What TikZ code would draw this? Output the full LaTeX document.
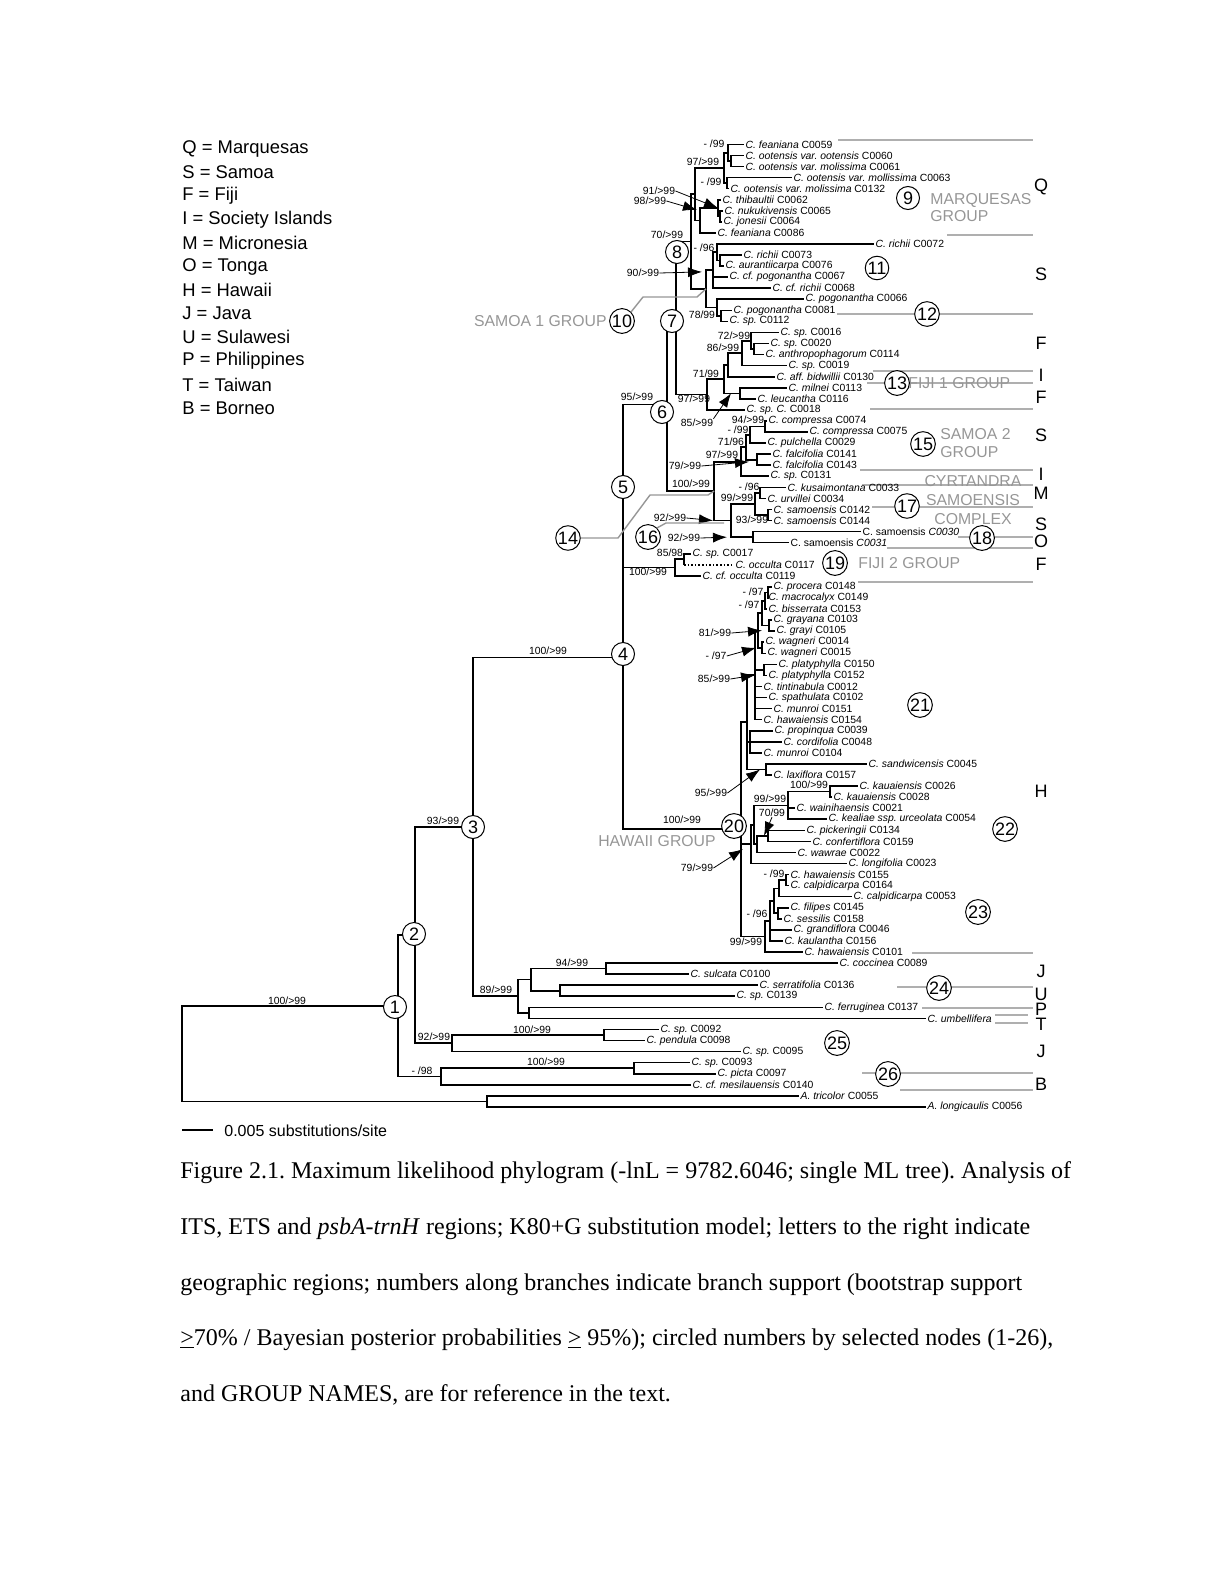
\documentclass[tikz,border=0pt]{standalone}
\usepackage{fontspec}
\setmainfont{Liberation Serif}
\setsansfont{Liberation Sans}
\usetikzlibrary{arrows.meta}
\definecolor{grouptext}{RGB}{150,150,150}
\definecolor{sepgray}{RGB}{175,175,175}
\newcommand{\taxn}[2]{\textit{#1} #2}
\frenchspacing
\tikzset{
  branch/.style={line width=0.8pt},
  taxon/.style={anchor=west, inner sep=0.6pt, font=\fontsize{5.2}{6}\selectfont\sffamily},
  support/.style={inner sep=0pt, font=\fontsize{5.2}{6}\selectfont\sffamily},
  pointer/.style={-{Latex[length=7pt,width=5pt]}, line width=0.4pt},
  nodenum/.style={draw, circle, fill=white, line width=0.5pt, inner sep=0.2pt, minimum size=11.5pt, font=\fontsize{9}{9}\selectfont\sffamily},
  grouplabel/.style={text=grouptext, inner sep=0pt, font=\fontsize{7.9}{8.8}\selectfont\sffamily},
  sepline/.style={draw=sepgray, line width=0.6pt},
  grayleader/.style={draw=grouptext, line width=0.7pt},
  region/.style={inner sep=0pt, font=\fontsize{9}{10}\selectfont\sffamily},
  legendtext/.style={anchor=west, inner sep=0pt, font=\fontsize{9.2}{10}\selectfont\sffamily},
  captionline/.style={anchor=base west, inner sep=0pt, font=\fontsize{12}{14}\selectfont}
}

\begin{document}
\begin{tikzpicture}[x=0.5pt, y=-0.5pt]
\useasboundingbox (0,0) rectangle (1224,1584);

% legend
\foreach \t [count=\i] in {Q = Marquesas, S = Samoa, F = Fiji, I = Society Islands, M = Micronesia, O = Tonga,
  H = Hawaii, J = Java, U = Sulawesi, P = Philippines, T = Taiwan, B = Borneo}
  \node[legendtext] (leg\i) at (182, {148.5+23.6*(\i-1)}) {\t};

% separator lines on the right
\foreach \xa/\y in {838/140, 947/235, 837/314, 873/371, 867/383, 870/409, 860/470, 862/485, 872/507,
  958/537, 887/548, 858/582, 912/953, 897/987, 922/1008, 862/1073, 900/1090}
  \draw[sepline] (\xa,\y) coordinate (sl\y) -- (1033,\y);
\draw[sepline] (995,1015) -- (1028,1015);
\draw[sepline] (995,1023) -- (1028,1023);

% the tree, y counted in taxon rows
\begin{scope}[y=-5.5315pt, yshift=-66.67pt]
\foreach \r/\x/\lab in {
  1/744/\taxn{C. feaniana}{C0059}, 2/744/\taxn{C. ootensis var. ootensis}{C0060},
  3/744/\taxn{C. ootensis var. molissima}{C0061}, 4/792/\taxn{C. ootensis var. mollissima}{C0063},
  5/729/\taxn{C. ootensis var. molissima}{C0132}, 6/721/\taxn{C. thibaultii}{C0062},
  7/723/\taxn{C. nukukivensis}{C0065}, 8/722/\taxn{C. jonesii}{C0064},
  9/716/\taxn{C. feaniana}{C0086}, 10/874/\taxn{C. richii}{C0072},
  11/742/\taxn{C. richii}{C0073}, 12/724/\taxn{C. aurantiicarpa}{C0076},
  13/728/\taxn{C. cf. pogonantha}{C0067}, 14/771/\taxn{C. cf. richii}{C0068},
  15/804/\taxn{C. pogonantha}{C0066}, 16/732/\taxn{C. pogonantha}{C0081},
  17/728/\taxn{C. sp.}{C0112}, 18/779/\taxn{C. sp.}{C0016},
  19/769/\taxn{C. sp.}{C0020}, 20/764/\taxn{C. anthropophagorum}{C0114},
  21/787/\taxn{C. sp.}{C0019}, 22/775/\taxn{C. aff. bidwillii}{C0130},
  23/787/\taxn{C. milnei}{C0113}, 24/756/\taxn{C. leucantha}{C0116},
  25/745/\taxn{C. sp. C.}{C0018}, 26/767/\taxn{C. compressa}{C0074},
  27/808/\taxn{C. compressa}{C0075}, 28/766/\taxn{C. pulchella}{C0029},
  29/771/\taxn{C. falcifolia}{C0141}, 30/771/\taxn{C. falcifolia}{C0143},
  31/769/\taxn{C. sp.}{C0131}, 32/786/\taxn{C. kusaimontana}{C0033},
  33/766/\taxn{C. urvillei}{C0034}, 34/772/\taxn{C. samoensis}{C0142},
  35/772/\taxn{C. samoensis}{C0144}, 36/861/{C. samoensis \textit{C0030}},
  37/789/{C. samoensis \textit{C0031}}, 38/691/\taxn{C. sp.}{C0017},
  39/734/\taxn{C. occulta}{C0117}, 40/701/\taxn{C. cf. occulta}{C0119},
  41/772/\taxn{C. procera}{C0148}, 42/767/\taxn{C. macrocalyx}{C0149},
  43/767/\taxn{C. bisserrata}{C0153}, 44/772/\taxn{C. grayana}{C0103},
  45/775/\taxn{C. grayi}{C0105}, 46/764/\taxn{C. wagneri}{C0014},
  47/766/\taxn{C. wagneri}{C0015}, 48/777/\taxn{C. platyphylla}{C0150},
  49/767/\taxn{C. platyphylla}{C0152}, 50/762/\taxn{C. tintinabula}{C0012},
  51/767/\taxn{C. spathulata}{C0102}, 52/772/\taxn{C. munroi}{C0151},
  53/762/\taxn{C. hawaiensis}{C0154}, 54/773/\taxn{C. propinqua}{C0039},
  55/782/\taxn{C. cordifolia}{C0048}, 56/762/\taxn{C. munroi}{C0104},
  57/867/\taxn{C. sandwicensis}{C0045}, 58/772/\taxn{C. laxiflora}{C0157},
  59/858/\taxn{C. kauaiensis}{C0026}, 60/832/\taxn{C. kauaiensis}{C0028},
  61/795/\taxn{C. wainihaensis}{C0021}, 62/827/\taxn{C. kealiae ssp. urceolata}{C0054},
  63/805/\taxn{C. pickeringii}{C0134}, 64/811/\taxn{C. confertiflora}{C0159},
  65/796/\taxn{C. wawrae}{C0022}, 66/847/\taxn{C. longifolia}{C0023},
  67/789/\taxn{C. hawaiensis}{C0155}, 68/789/\taxn{C. calpidicarpa}{C0164},
  69/852/\taxn{C. calpidicarpa}{C0053}, 70/789/\taxn{C. filipes}{C0145},
  71/782/\taxn{C. sessilis}{C0158}, 72/792/\taxn{C. grandiflora}{C0046},
  73/783/\taxn{C. kaulantha}{C0156}, 74/803/\taxn{C. hawaiensis}{C0101},
  75/838/\taxn{C. coccinea}{C0089}, 76/689/\taxn{C. sulcata}{C0100},
  77/758/\taxn{C. serratifolia}{C0136}, 78/735/\taxn{C. sp.}{C0139},
  79/823/\taxn{C. ferruginea}{C0137}, 80/926/\textit{C. umbellifera},
  81/659/\taxn{C. sp.}{C0092}, 82/645/\taxn{C. pendula}{C0098},
  83/741/\taxn{C. sp.}{C0095}, 84/690/\taxn{C. sp.}{C0093},
  85/716/\taxn{C. picta}{C0097}, 86/691/\taxn{C. cf. mesilauensis}{C0140},
  87/799/\taxn{A. tricolor}{C0055}, 88/926/\taxn{A. longicaulis}{C0056}}
  \node[taxon] (tx\r) at (\x,\r) {\lab};

% internal nodes: name/x/row
\foreach \n/\x/\r in {q1/731/2.5, q2/728/1.75, q3/727/4.5, q4/724/3.125, q5/720/7.5, q6/718/6.75,
  q7/700/7.875, q8/695/5.5, s1/720/11.5, s2/717/10.75, s3/713/12.375, s4a/721/16.5, s4/717/15.75,
  s5/706/14.06, n8/691/9.78, f1/754/19.5, f2/751/18.75, f3/742/19.875, f4/728/20.94, f5/740/23.5,
  f6/724/22.22, f7/707/23.61, n7/676/16.7, m1/765/26.5, m2/750/27.25, m3/757/29.5, m4/746/28.375,
  m5/741/29.69, c1/760/32.5, c2/768/34.5, c3/755/33.5, c4/753/36.5, c5/731/35, m6/714/32.34,
  n6/667/24.52, g1/684/38.5, g2/675/39.25, n5/623/31.88, h1/768/41.5, h2/765/42.25, h3/769/44.5,
  h4/762/43.375, h5/762/46.5, h6/758/44.94, h7/764/48.5, h8/755/48.97, h9/750/55, h11/766/57.5,
  h10/747/53.23, k1/830/59.5, k2/788/60.75, k4/768/63.5, k5/757/64.25, k6/754/62.5, k7/751/64.25,
  p1/786/67.5, p2/779/68.25, p3/778/70.5, p4/774/69.375, p5/770/71.19, p6/765/72.6, h0/741/62.9,
  n4/623/47.39, r1/606/75.5, r2/560/77.5, r3/531/76.5, r4/529/79.5, r5/518/78, n3/473/62.7,
  w1/604/81.5, w2/452/82.25, n2/415/72.47, u1/634/84.5, u2/441/85.25, n1/398/78.86,
  o1/487/87.5, rt/182/83.18}
  \coordinate (\n) at (\x,\r);
\end{scope}

% branches
\foreach \p/\c in {q1/tx2, q1/tx3, q2/tx1, q2/q1, q3/tx4, q3/tx5, q4/q2, q4/q3, q5/tx7, q5/tx8,
  q6/tx6, q6/q5, q7/q6, q7/tx9, q8/q4, q8/q7, s1/tx11, s1/tx12, s2/tx10, s2/s1, s3/s2, s3/tx13,
  s3/tx14, s4a/tx16, s4a/tx17, s4/tx15, s4/s4a, s5/s3, s5/s4, n8/q8, n8/s5, f1/tx19, f1/tx20,
  f2/tx18, f2/f1, f3/f2, f3/tx21, f4/f3, f4/tx22, f5/tx23, f5/tx24, f6/f4, f6/f5, f7/f6, f7/tx25,
  n7/n8, n7/f7, m1/tx26, m1/tx27, m2/m1, m2/tx28, m3/tx29, m3/tx30, m4/m2, m4/m3, m5/m4, m5/tx31,
  c1/tx32, c1/tx33, c2/tx34, c2/tx35, c3/c1, c3/c2, c4/tx36, c4/tx37, c5/c3, c5/c4, m6/m5, m6/c5,
  n6/n7, n6/m6, g1/tx38, g2/g1, g2/tx40, n5/n6, n5/g2, h1/tx41, h1/tx42, h2/h1, h2/tx43, h3/tx44,
  h3/tx45, h4/h2, h4/h3, h5/tx46, h5/tx47, h6/h4, h6/h5, h7/tx48, h7/tx49, h8/h6, h8/h7, h8/tx50,
  h8/tx51, h8/tx52, h8/tx53, h9/tx54, h9/tx55, h9/tx56, h11/tx57, h11/tx58, h10/h8, h10/h9,
  h10/h11, k1/tx59, k1/tx60, k2/k1, k2/tx61, k2/tx62, k4/tx63, k4/tx64, k5/k4, k5/tx65, k6/k2,
  k6/k5, k7/k6, k7/tx66, p1/tx67, p1/tx68, p2/p1, p2/tx69, p3/tx70, p3/tx71, p4/p2, p4/p3, p5/p4,
  p5/tx72, p5/tx73, p6/p5, p6/tx74, h0/h10, h0/k7, h0/p6, n4/n5, n4/h0, r1/tx75, r1/tx76,
  r2/tx77, r2/tx78, r3/r1, r3/r2, r4/tx79, r4/tx80, r5/r3, r5/r4, n3/n4, n3/r5, w1/tx81, w1/tx82,
  w2/w1, w2/tx83, n2/n3, n2/w2, u1/tx84, u1/tx85, u2/u1, u2/tx86, n1/n2, n1/u2, o1/tx87, o1/tx88,
  rt/n1, rt/o1}
  \draw[branch] (\p) |- (\c);
\draw[branch] (g1) -- (g1 |- tx39);
\draw[branch, densely dotted] (g1 |- tx39) -- (tx39);

% support values
\foreach \x/\y/\a/\b [count=\i] in {714/144/-\ /99, 703/162/97/>99, 711/182/-\ /99, 667/235/70/>99,
  704/248/-\ /96, 702/315/78/99, 734/336/72/>99, 723/348/86/>99, 706/374/71/99, 637/397/95/>99,
  694/399/97/>99, 748/420/94/>99, 738/430/-\ /99, 731/442/71/96, 722/455/97/>99, 691/484/100/>99,
  749/487/-\ /96, 737/498/99/>99, 752/520/93/>99, 670/553/85/98, 648/572/100/>99, 753/592/-\ /97,
  749/605/-\ /97, 809/785/100/>99, 770/799/99/>99, 682/820/100/>99, 774/874/-\ /99, 757/914/-\ /96,
  746/942/99/>99, 548/651/100/>99, 443/821/93/>99, 287/1001/100/>99, 496/990/89/>99, 572/963/94/>99,
  434/1037/92/>99, 532/1030/100/>99, 546/1062/100/>99, 422/1071/-\ /98}
  \node[support] (bs\i) at (\x,\y) {\a/\b};
\node[support] (l70) at (772,813) {70/99};

% support values with arrows
\node[support] (a91) at (659,191) {91/>99};
\node[support] (a98) at (650,201) {98/>99};
\node[support] (a90) at (643,273) {90/>99};
\node[support] (a85) at (697,423) {85/>99};
\node[support] (a79) at (685,466) {79/>99};
\node[support] (a92u) at (670,518) {92/>99};
\node[support] (a92l) at (684,538) {92/>99};
\node[support] (a81) at (715,633) {81/>99};
\node[support] (a97) at (716,656) {- /97};
\node[support] (a85h) at (714,679) {85/>99};
\node[support] (a95) at (711,793) {95/>99};
\node[support] (a79h) at (697,868) {79/>99};
\draw[pointer] (a91.east) -- (q6);
\draw[pointer] (a98.east) -- ([xshift=-1.5pt,yshift=5.25pt]q7);
\draw[pointer] (a90.east) -- ([xshift=-2pt,yshift=8.5pt]s5);
\draw[pointer] (a85.north east) -- ([xshift=-4.5pt]f5);
\draw[pointer] (a79.east) -- ([xshift=4pt]m5);
\draw[pointer] (a92u.east) -- ([xshift=-9pt]c5);
\draw[pointer] (a92l.east) -- ([xshift=-13pt]c4);
\draw[pointer] (a81.east) -- ([xshift=2pt]h6);
\draw[pointer] (a97.east) -- ([xshift=-3pt]h5);
\draw[pointer] (a85h.east) -- (h8);
\draw[pointer] (a95.east) -- ([xshift=-3pt]h11);
\draw[pointer] (a79h.east) -- ([xshift=-4pt,yshift=-2.5pt]k7);
\draw[pointer] (l70.south) -- ([xshift=-2pt]k4);

% group names
\node[grouplabel, anchor=west, align=left] (gMarq) at (930,207.5) {MARQUESAS\\GROUP};
\node[grouplabel, anchor=east] (gSam1) at (607,321) {SAMOA 1 GROUP};
\node[grouplabel, anchor=west] (gFiji1) at (908,383) {FIJI 1 GROUP};
\node[grouplabel, anchor=west, align=left] (gSam2) at (940,443) {SAMOA 2\\GROUP};
\node[grouplabel, align=center, font=\fontsize{7.9}{9.5}\selectfont\sffamily] (gCyrt) at (973,500) {CYRTANDRA\\SAMOENSIS\\COMPLEX};
\node[grouplabel, anchor=west] (gFiji2) at (858,563) {FIJI 2 GROUP};
\node[grouplabel] (gHaw) at (657,841) {HAWAII GROUP};

% circled node numbers
\foreach \k/\x/\y in {1/395/1007, 2/414/934, 3/473/827, 4/623/654, 5/623/487, 6/662/412, 7/672/321,
  8/677/252, 9/908/198, 10/622/321, 11/877/268, 12/927/314, 13/897/383, 14/568/538, 15/923/444,
  16/648/537, 17/907/506, 18/982/538, 19/835/563, 20/734/826, 21/920/705, 22/1005/829,
  23/978/912, 24/939/988, 25/837/1043, 26/888/1074}
  \node[nodenum] (nn\k) at (\x,\y) {\k};

% grey leaders to the group nodes
\draw[grayleader] (nn10.north east) -- (643,297) -- (697,297) -- (s5);
\draw[grayleader] (nn14.east) -- (618,538) -- (650,495) -- (708,495) -- (m6);
\draw[grayleader] (nn16.north east) -- (666,523) -- (724,523);

% region letters
\foreach \t/\y [count=\i] in {Q/187, S/274, F/343, I/375, F/397, S/435, I/474, M/493, S/524, O/541,
  F/564, H/791, J/971, U/994, P/1009, T/1024, J/1051, B/1084}
  \node[region] (rg\i) at (1041,\y) {\t};

% scale bar
\coordinate (sbl) at (182,1130);
\coordinate (sbr) at (213,1130);
\draw[line width=0.8pt] (sbl) -- (sbr);
\node[anchor=west, inner sep=0pt, font=\fontsize{8}{9}\selectfont\sffamily] (sbtext) at (224,1131) {0.005 substitutions/site};

% caption
\node[captionline] (cap1) at (180,1178) {Figure 2.1. Maximum likelihood phylogram (-lnL = 9782.6046; single ML tree). Analysis of};
\node[captionline] (cap2) at (180,1234) {ITS, ETS and \textit{psbA-trnH} regions; K80+G substitution model; letters to the right indicate};
\node[captionline] (cap3) at (180,1290) {geographic regions; numbers along branches indicate branch support (bootstrap support};
\node[captionline] (cap4) at (180,1345) {\underline{>}70\% / Bayesian posterior probabilities \underline{>} 95\%); circled numbers by selected nodes (1-26),};
\node[captionline] (cap5) at (180,1401) {and GROUP NAMES, are for reference in the text.};
\end{tikzpicture}
\end{document}
